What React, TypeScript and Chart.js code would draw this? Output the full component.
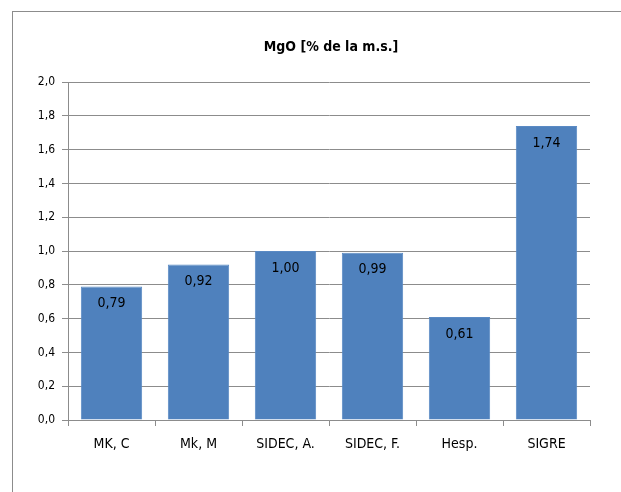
import React, { useEffect, useRef } from "react";
import { Chart, registerables } from "chart.js";

Chart.register(...registerables);

const categories = ["MK, C", "Mk, M", "SIDEC, A.", "SIDEC, F.", "Hesp.", "SIGRE"];
const values = [0.79, 0.92, 1.0, 0.99, 0.61, 1.74];
const yTicks = [0, 0.2, 0.4, 0.6, 0.8, 1.0, 1.2, 1.4, 1.6, 1.8, 2.0];
const titleText = "MgO [% de la m.s.]";

const FONT = "'Liberation Sans Narrow', 'DejaVu Sans Condensed', 'Liberation Sans', sans-serif";
const fmt = (v: number) => v.toFixed(2).replace(".", ",");

export default function App() {
  const ref = useRef<HTMLCanvasElement | null>(null);
  useEffect(() => {
    if (!ref.current) return;
    const framePlugin = {
      id: "frameAndLabels",
      beforeDraw(chart: any) {
        const ctx = chart.ctx;
        ctx.save();
        ctx.fillStyle = "#fff";
        ctx.fillRect(0, 0, chart.width, chart.height);
        ctx.strokeStyle = "#8c8c8c";
        ctx.lineWidth = 1;
        ctx.strokeRect(12.5, 11.5, 800, 800);
        ctx.fillStyle = "#000";
        ctx.font = `bold 14px ${FONT}`;
        ctx.textAlign = "center";
        ctx.textBaseline = "middle";
        const ca = chart.chartArea;
        ctx.fillText(titleText, (ca.left + ca.right) / 2 + 2, 47);
        ctx.restore();
      },
      afterDatasetsDraw(chart: any) {
        const ctx = chart.ctx;
        const meta = chart.getDatasetMeta(0);
        ctx.save();
        ctx.fillStyle = "#000";
        ctx.font = `14px ${FONT}`;
        ctx.textAlign = "center";
        ctx.textBaseline = "middle";
        meta.data.forEach((el: any, i: number) => {
          ctx.fillText(fmt(values[i]), el.x, el.y + 17);
        });
        ctx.restore();
      },
    };
    const chart = new Chart(ref.current, {
      type: "bar",
      data: {
        labels: categories,
        datasets: [
          {
            data: values,
            backgroundColor: "#4f81bd",
            borderColor: "#5a8ac4",
            borderWidth: 1,
            barPercentage: 0.705,
            categoryPercentage: 1,
          },
        ],
      },
      options: {
        animation: false,
        responsive: false,
        devicePixelRatio: 1,
        layout: { padding: { top: 82, right: 31, left: 0, bottom: 0 } },
        plugins: { legend: { display: false }, title: { display: false }, tooltip: { enabled: false } },
        scales: {
          x: {
            grid: { display: true, drawOnChartArea: false, offset: true, tickLength: 6, color: "#8c8c8c" },
            border: { color: "#8c8c8c" },
            ticks: { color: "#000", font: { family: FONT, size: 14 }, padding: 10 },
            afterFit(scale: any) {
              scale.height = 72;
            },
          },
          y: {
            min: 0,
            max: 2,
            afterBuildTicks(scale: any) {
              scale.ticks = yTicks.map((v) => ({ value: v }));
            },
            grid: { color: "#8c8c8c", tickLength: 6 },
            border: { color: "#8c8c8c" },
            ticks: {
              color: "#000",
              font: { family: FONT, size: 12 },
              padding: 7,
              callback: (v: any) => Number(v).toFixed(1).replace(".", ","),
            },
            afterFit(scale: any) {
              scale.width = 68;
            },
          },
        },
      },
      plugins: [framePlugin],
    });
    return () => chart.destroy();
  }, []);
  return (
    <div style={{ position: "fixed", left: 0, top: 0, width: 621, height: 492, background: "#fff" }}>
      <canvas ref={ref} width={621} height={492} style={{ display: "block" }} />
    </div>
  );
}
